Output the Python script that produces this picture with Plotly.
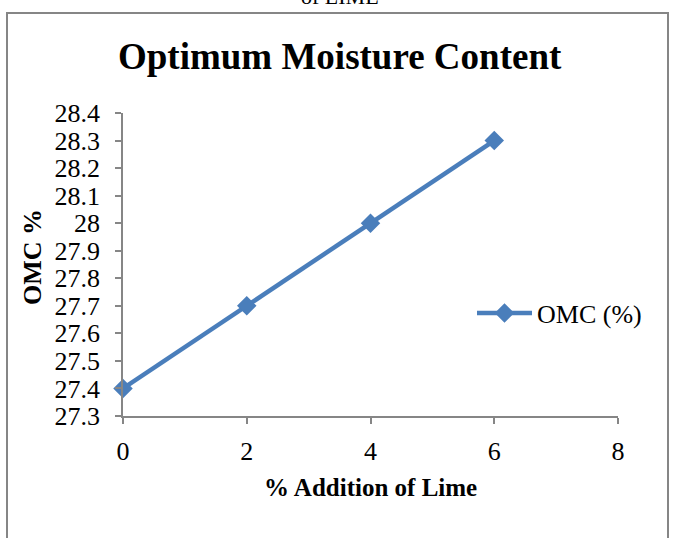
import plotly.graph_objects as go

# Lime content (%) and the resulting optimum moisture content (%)
lime_pct = [0, 2, 4, 6]
omc_pct = [27.4, 27.7, 28.0, 28.3]

x_ticks = [0, 2, 4, 6, 8]
y_ticks = [27.3, 27.4, 27.5, 27.6, 27.7, 27.8, 27.9, 28.0, 28.1, 28.2, 28.3, 28.4]
y_tick_text = ["27.3", "27.4", "27.5", "27.6", "27.7", "27.8", "27.9", "28",
               "28.1", "28.2", "28.3", "28.4"]

SERIF = "Liberation Serif"
BLUE = "#4a7ebb"
GRAY = "#868686"

# plot area in pixels
L, R, T, B = 123, 618, 113, 416
W, H = R - L, B - T


def px(x):
    return (x - L) / W


def py(y):
    return (B - y) / H


fig = go.Figure()
fig.add_trace(go.Scatter(
    x=lime_pct, y=omc_pct, mode="lines+markers", name="OMC (%)",
    line=dict(color=BLUE, width=4.5),
    marker=dict(symbol="diamond", size=15, color=BLUE),
    cliponaxis=False,
))

tick_font = dict(family=SERIF, size=26, color="black")
axis_common = dict(
    showgrid=False, zeroline=False, showline=True, linecolor=GRAY, linewidth=1.5,
    ticks="outside", ticklen=6, tickcolor=GRAY, tickwidth=1.5,
)

fig.update_layout(
    width=673, height=538,
    margin=dict(l=L, r=673 - R, t=T, b=538 - B, autoexpand=False),
    paper_bgcolor="white", plot_bgcolor="white",
    font=dict(family=SERIF, color="black"),
    showlegend=True,
    legend=dict(x=px(472), y=py(313), xanchor="left", yanchor="middle",
                font=dict(family=SERIF, size=26, color="black"),
                itemwidth=55, bgcolor="rgba(0,0,0,0)"),
    xaxis=dict(range=[0, 8], tickvals=x_ticks, tickfont=tick_font,
               ticklabelstandoff=5, **axis_common),
    yaxis=dict(range=[27.3, 28.4], tickvals=y_ticks, ticktext=y_tick_text,
               tickfont=tick_font, ticklabelstandoff=10, **axis_common),
)

# Chart frame
fig.add_shape(type="rect", xref="paper", yref="paper",
              x0=px(7), x1=px(668), y0=py(560), y1=py(13),
              line=dict(color=GRAY, width=2), fillcolor="rgba(0,0,0,0)", layer="below")

fig.add_annotation(text="Optimum Moisture Content", xref="paper", yref="paper",
                   x=px(340), y=py(57), showarrow=False,
                   xanchor="center", yanchor="middle",
                   font=dict(family=SERIF, size=37, color="black", weight="bold"))
fig.add_annotation(text="of LIME", xref="paper", yref="paper",
                   x=px(340), y=py(-4), showarrow=False,
                   xanchor="center", yanchor="middle",
                   font=dict(family=SERIF, size=22, color="black"))
fig.add_annotation(text="% Addition of Lime", xref="paper", yref="paper",
                   x=px(370), y=py(487), showarrow=False,
                   xanchor="center", yanchor="middle",
                   font=dict(family=SERIF, size=25, color="black", weight="bold"))
fig.add_annotation(text="OMC %", xref="paper", yref="paper", textangle=-90,
                   x=px(32), y=py(257), showarrow=False,
                   xanchor="center", yanchor="middle",
                   font=dict(family=SERIF, size=26, color="black", weight="bold"))

fig.write_html("out.html")
